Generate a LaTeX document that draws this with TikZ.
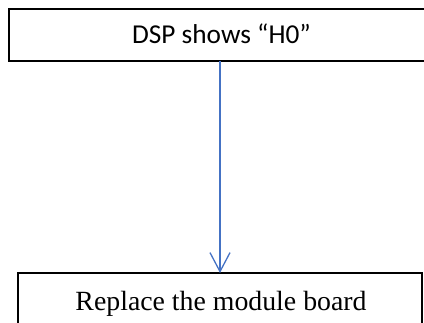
\documentclass[tikz,border=0pt]{standalone}
\usepackage{fontspec}
\setmainfont{Liberation Serif}
\newfontfamily\calib{Carlito}
\usetikzlibrary{arrows.meta}
\definecolor{arrowblue}{RGB}{68,114,196}
\begin{document}
\begin{tikzpicture}[x=1pt,y=1pt,
  boxstyle/.style={draw=black, inner sep=0pt, outer sep=0pt},
  flowarrow/.style={draw=arrowblue, line width=1.3pt, -{Straight Barb[length=19pt,width=20pt,line width=1.3pt]}}]
\useasboundingbox (0,0) rectangle (424,-323);
\node[boxstyle, line width=2pt, minimum width=422pt, minimum height=52pt, anchor=north west] (top) at (9,-9) {};
\node[font=\calib\fontsize{27.3}{31}\selectfont, inner sep=0pt, anchor=base] (toptext) at (221.5,-43.7) {DSP shows “H0”};
\node[boxstyle, line width=1.3pt, minimum width=404pt, minimum height=67pt, anchor=north west] (bot) at (18,-273) {};
\node[font=\fontsize{27.8}{32}\selectfont, inner sep=0pt, anchor=base] (bottext) at (221,-311) {Replace the module board};
\draw[flowarrow] (top.south) -- (bot.north);
\end{tikzpicture}
\end{document}
